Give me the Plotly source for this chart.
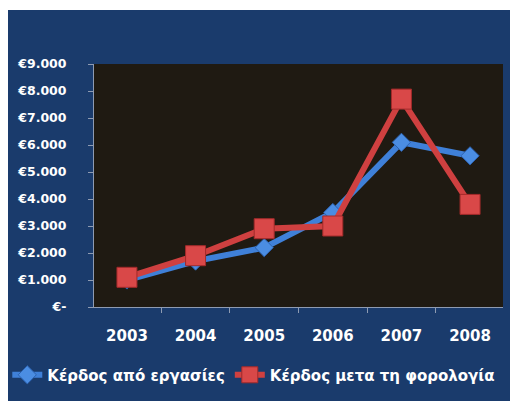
import plotly.graph_objects as go

years = ["2003", "2004", "2005", "2006", "2007", "2008"]
kerdos_ergasies = [1000, 1700, 2200, 3500, 6100, 5600]
kerdos_meta_foro = [1100, 1900, 2900, 3000, 7700, 3800]
y_tickvals = [0, 1000, 2000, 3000, 4000, 5000, 6000, 7000, 8000, 9000]
y_ticktext = ["€-", "€1.000", "€2.000", "€3.000", "€4.000", "€5.000",
              "€6.000", "€7.000", "€8.000", "€9.000"]

NAVY = "#1a3b6c"
AXIS = "#8e9bb2"
FONT = "DejaVu Sans"

fig = go.Figure()
fig.add_trace(go.Scatter(
    x=years, y=kerdos_ergasies, name="Κέρδος από εργασίες",
    mode="lines+markers",
    line=dict(color="#3f80d8", width=6),
    marker=dict(symbol="diamond", size=14, color="#4b8de2",
                line=dict(color="#2c62b0", width=1)),
))
fig.add_trace(go.Scatter(
    x=years, y=kerdos_meta_foro, name="Κέρδος μετα τη φορολογία",
    mode="lines+markers",
    line=dict(color="#cf4040", width=6),
    marker=dict(symbol="square", size=20, color="#d94848",
                line=dict(color="#a32a2a", width=1)),
))

fig.update_layout(
    width=518, height=401,
    margin=dict(l=86, r=23, t=56, b=102, autoexpand=False),
    paper_bgcolor=NAVY,
    plot_bgcolor="#1f1a12",
    showlegend=True,
    legend=dict(orientation="h",
                x=-0.212, xanchor="left", y=-0.28, yanchor="middle",
                bgcolor="rgba(0,0,0,0)", borderwidth=0,
                font=dict(family=FONT, size=15, color="white", weight="bold"),
                itemwidth=30, traceorder="normal", tracegroupgap=0),
    xaxis=dict(
        type="category", showgrid=False, tickson="boundaries",
        ticks="outside", ticklen=5, tickcolor=AXIS, automargin=False,
        showline=True, linecolor=AXIS, linewidth=1,
        ticklabelstandoff=15,
        tickfont=dict(family=FONT, size=15, color="white", weight="bold"),
    ),
    yaxis=dict(
        range=[0, 9000], tickvals=y_tickvals, ticktext=y_ticktext,
        showgrid=False, zeroline=False, automargin=False,
        ticks="outside", ticklen=5, tickcolor=AXIS,
        showline=True, linecolor=AXIS, linewidth=1,
        ticklabelstandoff=19,
        tickfont=dict(family=FONT, size=12.5, color="white", weight="bold"),
    ),
    shapes=[
        dict(type="rect", xref="paper", yref="paper",
             x0=-0.5, x1=1.5, y0=(299 - 2) / 243, y1=1.5,
             fillcolor="white", line=dict(width=0), layer="below"),
    ],
)

fig.write_html("out.html")
